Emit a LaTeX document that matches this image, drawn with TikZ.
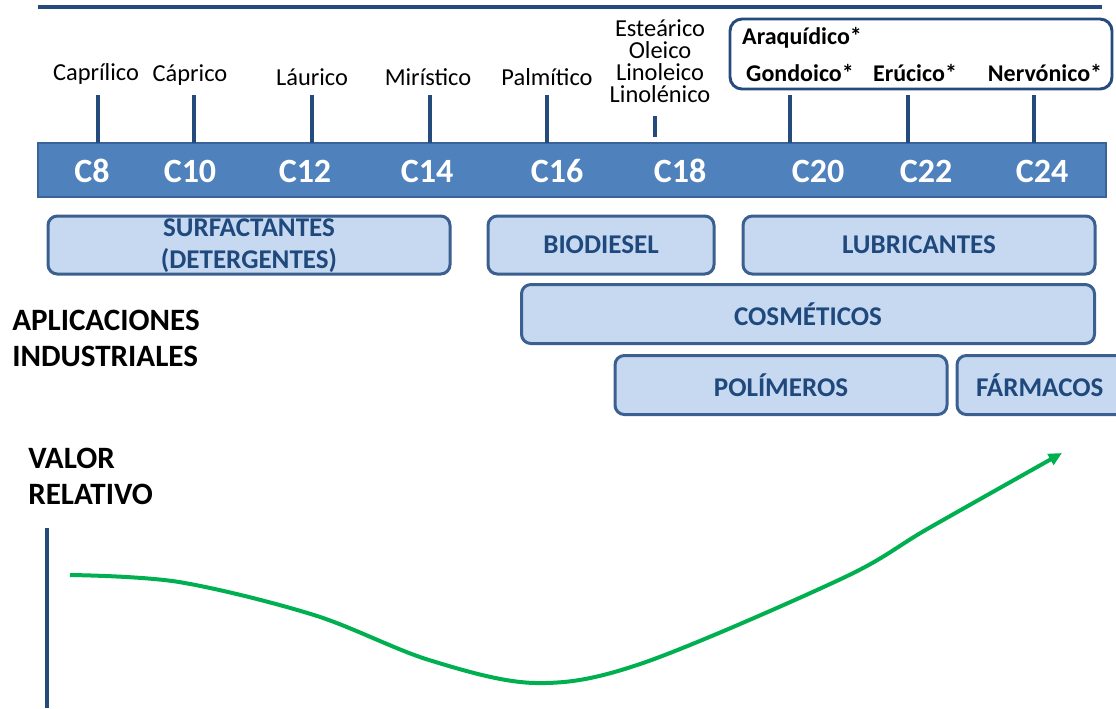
\documentclass[tikz,border=0pt]{standalone}
\usepackage{fontspec}
\setmainfont{Carlito}
\usetikzlibrary{arrows.meta}
\definecolor{dkblue}{HTML}{254A7C}
\definecolor{barfill}{HTML}{4F81BD}
\definecolor{barline}{HTML}{3A6398}
\definecolor{appfill}{HTML}{C6D9F1}
\definecolor{appline}{HTML}{3B5F8E}
\definecolor{apptext}{HTML}{1F497D}
\definecolor{grn}{HTML}{00B050}
\tikzset{
  px/.style 2 args={minimum width=#1*0.75pt, minimum height=#2*0.75pt},
  barbox/.style={draw=barline, fill=barfill, line width=1.8pt, inner sep=0pt},
  clabel/.style={text=white, inner sep=0pt, font=\fontsize{25.5pt}{30pt}\selectfont\bfseries},
  acid/.style={inner sep=0pt, font=\fontsize{18.3pt}{22pt}\selectfont},
  acidb/.style={inner sep=0pt, font=\fontsize{18pt}{22pt}\selectfont\bfseries},
  tickline/.style={dkblue, line width=3pt},
  namesbox/.style={draw=dkblue, line width=2.2pt, rounded corners=9pt, inner sep=0pt},
  appbox/.style={draw=appline, fill=appfill, line width=2.25pt, rounded corners=7pt, inner sep=0pt,
    text=apptext, align=center, font=\fontsize{20.3pt}{25pt}\selectfont\bfseries},
  sidelabel/.style={inner sep=0pt, anchor=west, align=left, font=\fontsize{23.3pt}{27pt}\selectfont\bfseries},
  curve/.style={grn, line width=3pt, -{Triangle[length=10pt,width=9pt]}},
}
\begin{document}
\begin{tikzpicture}[x=0.75pt,y=-0.75pt]
\useasboundingbox (0,0) rectangle (1116,708);
% top rule
\coordinate (ruleL) at (38,7);
\coordinate (ruleR) at (1102,7);
\draw[dkblue, line width=3pt] (ruleL) -- (ruleR);
% carbon bar
\node[barbox, px={1068}{54}] (bar) at (572,170) {};
\foreach \x/\t in {92/C8, 190/C10, 305/C12, 427/C14, 557/C16, 680/C18, 818/C20, 926/C22, 1042/C24}
  \node[clabel] (\t) at (\x,171) {\t};
% acid names
\node[acid] (capr) at (96,74) {Caprílico};
\node[acid] (capri) at (190,75) {Cáprico};
\node[acid] (laur) at (312,77) {Láurico};
\node[acid] (mir) at (428,77) {Mirístico};
\node[acid] (palm) at (547,77) {Palmítico};
\node[acid, align=center, font=\fontsize{18.3pt}{16.5pt}\selectfont] (c18n) at (660,61) {Esteárico\\Oleico\\Linoleico\\Linolénico};
% box of long chain acids
\node[namesbox, px={382}{70}] (longbox) at (921,54) {};
\node[acidb] (araq) at (802,38) {Araquídico*};
\node[acidb] (gond) at (800,73) {Gondoico*};
\node[acidb] (eruc) at (915,73) {Erúcico*};
\node[acidb] (nerv) at (1045,73) {Nervónico*};
% ticks
\foreach \n/\x in {t8/98, t10/194, t12/312, t14/430, t16/547, t20/790, t22/908, t24/1034}{
  \coordinate (\n a) at (\x,95);
  \coordinate (\n b) at (\x,143);
  \draw[tickline] (\n a) -- (\n b);
}
\coordinate (t18a) at (655,116);
\coordinate (t18b) at (655,137);
\draw[tickline] (t18a) -- (t18b);
% application boxes
\node[appbox, px={402}{58}] (surf) at (249,245) {\raisebox{-5.8pt}[0pt][0pt]{\begin{tabular}{@{}c@{}}SURFACTANTES\\[-0.5pt](DETERGENTES)\end{tabular}}};
\node[appbox, px={226}{58}] (bio) at (601,245) {BIODIESEL};
\node[appbox, px={352}{58}] (lub) at (919,245) {LUBRICANTES};
\node[appbox, px={573}{59}] (cos) at (808,314) {COSMÉTICOS};
\node[appbox, px={332}{59}] (pol) at (781,385) {POLÍMEROS};
\node[appbox, px={170}{59}, text width=160*0.75pt, align=left] (farm) at (1042,385) {\hspace*{10.5pt}FÁRMACOS};
% side labels
\node[sidelabel] (apl) at (12,338) {APLICACIONES\\INDUSTRIALES};
\node[sidelabel] (val) at (28,476) {VALOR\\RELATIVO};
% value axis and curve
\coordinate (axT) at (47,528);
\coordinate (axB) at (47,708);
\draw[dkblue, line width=2.6pt] (axT) -- (axB);
\draw[curve] plot[smooth, tension=0.55] coordinates {(70,575) (179,582) (314,615) (429,660) (536,683) (643,663) (843,578) (929,528) (1062,453)};
\end{tikzpicture}
\end{document}
